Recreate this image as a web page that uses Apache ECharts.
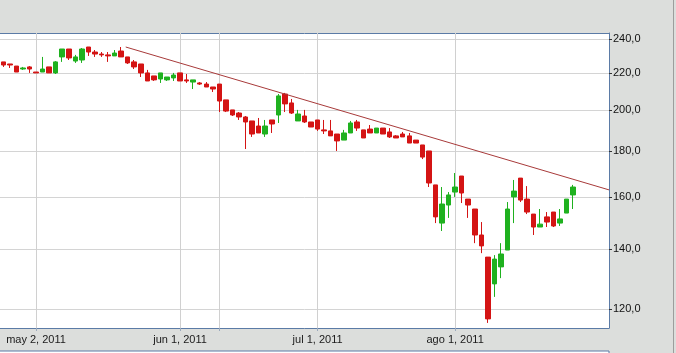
<!DOCTYPE html>
<html>
<head>
<meta charset="utf-8">
<script src="https://cdn.jsdelivr.net/npm/echarts@6/dist/echarts.min.js"></script>
<style>
  html, body { margin: 0; padding: 0; background: #dcdedc; }
  #chart { width: 676px; height: 353px; }
</style>
</head>
<body>
<div id="chart"></div>
<script>
// Trading dates (category axis)
const dates = [
  '2011-04-21','2011-04-26','2011-04-27','2011-04-28','2011-04-29',
  '2011-05-02','2011-05-03','2011-05-04','2011-05-05','2011-05-06',
  '2011-05-09','2011-05-10','2011-05-11','2011-05-12','2011-05-13',
  '2011-05-16','2011-05-17','2011-05-18','2011-05-19','2011-05-20',
  '2011-05-23','2011-05-24','2011-05-25','2011-05-26','2011-05-27',
  '2011-05-30','2011-05-31',
  '2011-06-01','2011-06-02','2011-06-03','2011-06-06','2011-06-07',
  '2011-06-08','2011-06-09','2011-06-10','2011-06-14','2011-06-15',
  '2011-06-16','2011-06-17','2011-06-20','2011-06-21','2011-06-22',
  '2011-06-23','2011-06-24','2011-06-27','2011-06-28','2011-06-29','2011-06-30',
  '2011-07-01','2011-07-04','2011-07-05','2011-07-06','2011-07-07','2011-07-08',
  '2011-07-11','2011-07-12','2011-07-13','2011-07-14','2011-07-15',
  '2011-07-18','2011-07-19','2011-07-20','2011-07-21','2011-07-22',
  '2011-07-25','2011-07-26','2011-07-27','2011-07-28','2011-07-29',
  '2011-08-01','2011-08-02','2011-08-03','2011-08-04','2011-08-05',
  '2011-08-08','2011-08-09','2011-08-10','2011-08-11','2011-08-12',
  '2011-08-15','2011-08-16','2011-08-17','2011-08-18','2011-08-19',
  '2011-08-22','2011-08-23','2011-08-24','2011-08-25',
  '2011-08-26','2011-08-29','2011-08-30','2011-08-31','2011-09-01'
];

// [open, close, low, high]
const candles = [
  [226.3,224.5,223.4,226.3],[225.1,224.5,222.8,225.1],[223.9,220.5,220.5,223.9],[222.2,222.8,221.7,223.4],[223.4,222.2,220.0,223.9],
  [220.5,220.0,220.0,220.5],[220.5,222.2,220.5,229.2],[223.4,220.0,220.0,223.4],[220.0,226.3,219.4,226.8],[229.2,233.9,226.3,233.9],
  [233.9,228.6,227.4,233.9],[226.8,229.2,225.7,230.4],[227.4,233.9,225.7,234.5],[235.1,232.1,229.8,235.1],[232.1,230.9,229.2,233.3],
  [230.9,230.4,229.2,232.1],[230.4,229.8,226.3,232.1],[229.8,231.5,229.8,233.3],[232.7,229.2,229.2,235.1],[229.2,225.7,225.1,229.2],
  [226.3,223.4,222.2,227.4],[225.1,220.0,217.7,225.1],[220.0,215.5,215.5,221.7],[218.3,216.1,215.5,218.3],[216.6,220.0,214.4,220.0],
  [216.1,217.7,215.5,217.7],[217.2,218.8,215.5,220.0],
  [220.0,215.5,215.5,220.0],[216.1,215.5,214.4,219.4],[214.9,216.1,211.1,216.1],[214.4,213.8,213.3,214.9],[213.8,212.2,212.2,214.9],
  [212.2,211.1,209.5,212.2],[213.8,204.7,199.0,213.8],[205.3,199.5,199.0,205.3],[200.1,197.5,197.0,200.1],[198.5,196.5,195.0,199.0],
  [196.5,194.0,181.0,197.0],[194.5,188.1,186.7,194.5],[192.0,188.6,188.6,196.0],[188.1,192.0,186.7,195.0],[195.0,193.0,188.6,195.0],
  [197.5,207.4,193.5,208.4],[208.4,203.2,199.0,209.0],[203.7,198.5,198.0,205.8],[194.5,198.0,194.5,200.1],[197.0,194.0,193.5,200.1],[194.0,191.5,191.5,194.0],
  [195.0,190.5,189.6,195.0],[190.1,189.6,188.1,195.0],[189.6,187.2,187.2,195.0],[188.1,184.8,180.1,188.1],[185.2,188.6,185.2,190.1],[188.6,193.5,188.6,194.5],
  [194.0,191.0,189.6,195.0],[190.1,186.2,186.2,190.1],[190.5,188.6,188.6,192.5],[188.6,191.0,188.6,191.0],[191.0,188.1,188.1,191.0],
  [189.1,186.7,186.2,191.0],[187.2,186.2,186.2,187.6],[188.1,186.7,186.7,189.1],[187.2,183.8,183.8,188.6],[185.2,183.8,183.8,185.2],
  [182.9,177.3,176.4,182.9],[180.1,165.9,164.2,180.1],[165.1,152.1,149.7,165.1],[149.7,157.2,146.7,164.2],[156.8,160.9,151.7,162.1],
  [162.1,164.2,160.1,170.2],[168.9,161.7,157.6,168.9],[159.2,156.8,151.7,159.2],[155.2,145.2,142.2,155.2],[145.2,141.2,138.6,150.1],
  [137.2,117.1,115.9,137.2],[128.1,136.5,123.9,137.9],[133.8,138.3,130.0,142.2],[139.7,155.2,139.7,158.0],[160.1,162.5,149.7,167.2],
  [168.0,158.8,158.0,168.0],[159.2,154.0,153.2,164.6],[153.2,148.2,145.2,153.2],[148.2,149.3,148.2,155.2],[152.1,150.1,148.2,154.0],
  [154.0,148.6,148.2,154.0],[149.7,151.3,148.6,155.2],[153.6,159.2,153.6,159.2],[160.9,164.2,155.2,165.1]
];

const yTicks = [120, 140, 160, 180, 200, 220, 240];
const xLabelDates = ['2011-05-02', '2011-06-01', '2011-07-01', '2011-08-01'];
const xLabelTexts = ['may 2, 2011', 'jun 1, 2011', 'jul 1, 2011', 'ago 1, 2011'];
const gridDates = ['2011-05-02', '2011-06-01', '2011-06-09', '2011-07-01', '2011-08-01'];
// trend line: [category index, price]
const trendX = [18.7, 92.5];
const trendY = [235.1, 163.0];

const labelMap = {};
xLabelDates.forEach((d, i) => { labelMap[d] = xLabelTexts[i]; });

const chart = echarts.init(document.getElementById('chart'), null, { renderer: 'canvas' });
const FONT = '"Liberation Sans", Arial, sans-serif';
const FRAME = '#5b7ba6';

chart.setOption({
  animation: false,
  backgroundColor: '#dcdedc',
  grid: {
    left: -1, top: 33, width: 610, height: 295,
    show: true, backgroundColor: '#ffffff', borderWidth: 0,
    containLabel: false
  },
  xAxis: [{
    type: 'category',
    data: dates,
    boundaryGap: true,
    axisLine: { show: true, onZero: false, lineStyle: { color: FRAME } },
    axisTick: {
      show: true, alignWithLabel: true, length: 3,
      interval: (i, v) => gridDates.indexOf(v) >= 0,
      lineStyle: { color: '#9aa9bd' }
    },
    axisLabel: {
      interval: (i, v) => labelMap[v] !== undefined,
      formatter: v => labelMap[v] || '',
      color: '#1a1a1a', fontSize: 11, fontFamily: FONT, margin: 6
    },
    splitLine: { show: false }
  }, {
    type: 'value', min: -0.5, max: 92.5, show: false,
    axisLine: { onZero: false }
  }, {
    type: 'category', data: dates, position: 'top',
    axisLine: { show: true, onZero: false, lineStyle: { color: FRAME } },
    axisTick: { show: false }, axisLabel: { show: false }, splitLine: { show: false }
  }],
  yAxis: {
    type: 'log', logBase: 10, position: 'right',
    min: 114.4, max: 243.7,
    axisLine: { show: true, onZero: false, lineStyle: { color: FRAME } },
    axisTick: { show: true, customValues: yTicks, length: 3, lineStyle: { color: '#333' } },
    axisLabel: {
      customValues: yTicks,
      formatter: v => Number(v).toFixed(1).replace('.', ','),
      color: '#111', fontSize: 11, fontFamily: FONT, margin: 4
    },
    splitLine: { show: true, lineStyle: { color: '#d4d4d4', width: 1 } }
  },
  graphic: [
    { type: 'rect', shape: { x: -1, y: 351, width: 610, height: 10 },
      style: { fill: '#ffffff', stroke: FRAME, lineWidth: 1 }, z: 10 },
    { type: 'line', shape: { x1: 673.5, y1: 0, x2: 673.5, y2: 353 },
      style: { stroke: '#9c9e9c', lineWidth: 1 }, z: 10 }
  ],
  series: [{
    type: 'line', data: [], z: 1,
    markLine: {
      silent: true, symbol: 'none', z: 1,
      label: { show: false },
      lineStyle: { color: '#d0d0d0', type: 'solid', width: 1 },
      data: gridDates.map(d => ({ xAxis: d }))
    }
  }, {
    type: 'candlestick',
    data: candles,
    barWidth: 5,
    z: 3,
    itemStyle: {
      color: '#1fb11f', color0: '#d41414',
      borderColor: '#1fb11f', borderColor0: '#d41414', borderWidth: 1
    }
  }, {
    type: 'line',
    xAxisIndex: 1,
    data: trendX.map((x, i) => [x, trendY[i]]),
    symbol: 'none', z: 4,
    lineStyle: { color: '#a83a3a', width: 1 }
  }]
});
</script>
</body>
</html>
